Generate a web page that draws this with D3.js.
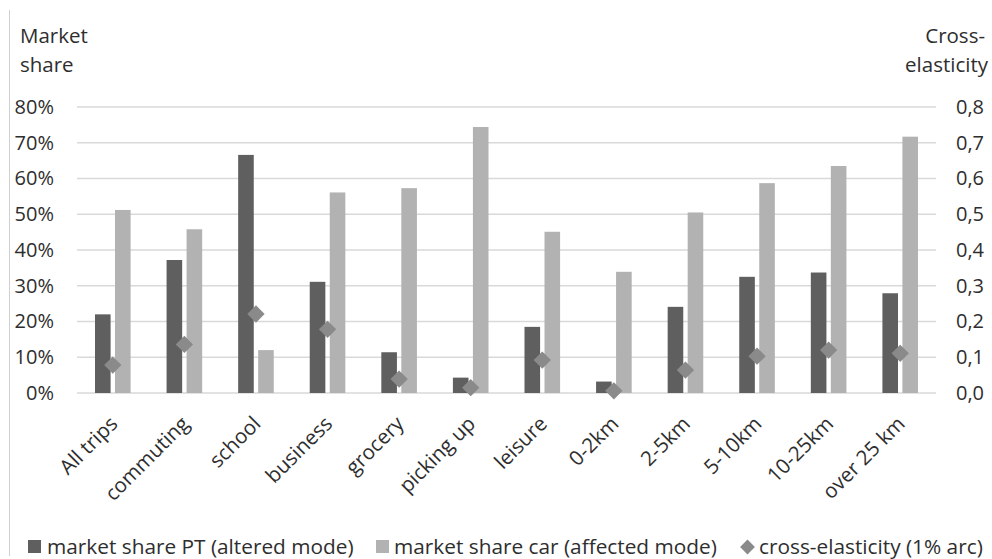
<!DOCTYPE html>
<html>
<head>
<meta charset="utf-8">
<script src="https://cdn.jsdelivr.net/npm/d3@7"></script>
<style>
  html, body { margin: 0; padding: 0; background: #fff; }
  svg { display: block; font-family: "Open Sans", "Noto Sans", sans-serif; }
</style>
</head>
<body>
<svg id="chart" width="992" height="559"></svg>
<script>
// Trip purposes and distance bands
const categories = ["All trips", "commuting", "school", "business", "grocery", "picking up",
  "leisure", "0-2km", "2-5km", "5-10km", "10-25km", "over 25 km"];

// Market share of public transport (altered mode), fraction
const sharePT = [0.22, 0.372, 0.666, 0.311, 0.114, 0.043, 0.185, 0.032, 0.241, 0.325, 0.337, 0.279];

// Market share of car (affected mode), fraction
const shareCar = [0.512, 0.458, 0.12, 0.561, 0.573, 0.744, 0.451, 0.339, 0.505, 0.587, 0.635, 0.717];

// Cross-elasticity (1% arc)
const crossElasticity = [0.078, 0.136, 0.221, 0.178, 0.039, 0.015, 0.092, 0.006, 0.064, 0.103, 0.12, 0.111];

const leftTicks = [0, 0.1, 0.2, 0.3, 0.4, 0.5, 0.6, 0.7, 0.8];
const rightTicks = [0, 0.1, 0.2, 0.3, 0.4, 0.5, 0.6, 0.7, 0.8];

const seriesNames = ["market share PT (altered mode)", "market share car (affected mode)", "cross-elasticity (1% arc)"];
const colors = { pt: "#5f5f5f", car: "#b2b2b2", elas: "#8a8a8a", grid: "#d9d9d9", text: "#2e2e2e" };
const FS = 20.5;     // general text size
const FS_TICK = 20;  // axis tick labels
const FS_LEG = 20.8; // legend

const svg = d3.select("#chart");
const plot = { left: 77, right: 936, top: 107, bottom: 393 };

const x = d3.scaleBand().domain(categories).range([plot.left, plot.right]);
const yL = d3.scaleLinear().domain([0, 0.8]).range([plot.bottom, plot.top]);
const yR = d3.scaleLinear().domain([0, 0.8]).range([plot.bottom, plot.top]);

const barW = 15.6, barGap = 4.4;

// chart area border (left edge only is visible)
svg.append("line")
  .attr("x1", 9.5).attr("x2", 9.5).attr("y1", 10).attr("y2", 556)
  .attr("stroke", "#d0d0d0").attr("stroke-width", 1);

// gridlines
svg.append("g").selectAll("line").data(leftTicks).join("line")
  .attr("x1", plot.left).attr("x2", plot.right)
  .attr("y1", d => yL(d)).attr("y2", d => yL(d))
  .attr("stroke", colors.grid).attr("stroke-width", 1.6);

// left axis
const leftAxis = d3.axisLeft(yL).tickValues(leftTicks).tickFormat(d3.format(".0%")).tickSize(0).tickPadding(0);
const gL = svg.append("g").attr("transform", "translate(54,0)").call(leftAxis);
gL.select(".domain").remove();
gL.selectAll("text").attr("font-size", FS_TICK).attr("fill", colors.text).attr("font-family", "Open Sans");

// right axis
const commaFmt = d => d3.format(".1f")(d).replace(".", ",");
const rightAxis = d3.axisRight(yR).tickValues(rightTicks).tickFormat(commaFmt).tickSize(0).tickPadding(0);
const gR = svg.append("g").attr("transform", "translate(956,0)").call(rightAxis);
gR.select(".domain").remove();
gR.selectAll("text").attr("font-size", FS_TICK).attr("fill", colors.text).attr("font-family", "Open Sans");

// axis titles
const titleL = svg.append("text").attr("font-size", FS).attr("fill", colors.text);
titleL.append("tspan").attr("x", 20).attr("y", 43).text("Market");
titleL.append("tspan").attr("x", 20).attr("y", 72).text("share");
const titleR = svg.append("text").attr("font-size", FS).attr("fill", colors.text).attr("text-anchor", "end");
titleR.append("tspan").attr("x", 985).attr("y", 43).text("Cross-");
titleR.append("tspan").attr("x", 988).attr("y", 72).text("elasticity");

// bars
const cx = d => x(d) + x.bandwidth() / 2;
svg.append("g").selectAll("rect").data(categories).join("rect")
  .attr("x", (d) => cx(d) - barGap / 2 - barW)
  .attr("width", barW)
  .attr("y", (d, i) => yL(sharePT[i]))
  .attr("height", (d, i) => yL(0) - yL(sharePT[i]))
  .attr("fill", colors.pt);
svg.append("g").selectAll("rect").data(categories).join("rect")
  .attr("x", (d) => cx(d) + barGap / 2)
  .attr("width", barW)
  .attr("y", (d, i) => yL(shareCar[i]))
  .attr("height", (d, i) => yL(0) - yL(shareCar[i]))
  .attr("fill", colors.car);

// elasticity markers
const diamond = d3.symbol().type(d3.symbolSquare).size(150);
svg.append("g").selectAll("path").data(categories).join("path")
  .attr("d", diamond)
  .attr("transform", (d, i) => `translate(${cx(d)},${yR(crossElasticity[i])}) rotate(45)`)
  .attr("fill", colors.elas);

// category labels
svg.append("g").selectAll("text").data(categories).join("text")
  .attr("transform", d => `translate(${cx(d) + 6},${425}) rotate(-45)`)
  .attr("text-anchor", "end")
  .attr("font-size", FS).attr("fill", colors.text)
  .text(d => d);

// legend
const legend = svg.append("g").attr("font-size", FS_LEG).attr("fill", colors.text);
const legendItems = [
  { name: seriesNames[0], sx: 28, tx: 47, kind: "rect", color: colors.pt },
  { name: seriesNames[1], sx: 376, tx: 394, kind: "rect", color: colors.car },
  { name: seriesNames[2], sx: 747.5, tx: 759, kind: "diamond", color: colors.elas }
];
legendItems.forEach(it => {
  if (it.kind === "rect") {
    legend.append("rect").attr("x", it.sx).attr("y", 540).attr("width", 13).attr("height", 13).attr("fill", it.color);
  } else {
    legend.append("path").attr("d", d3.symbol().type(d3.symbolSquare).size(110))
      .attr("transform", `translate(${it.sx},547) rotate(45)`).attr("fill", it.color);
  }
  legend.append("text").attr("x", it.tx).attr("y", 554).text(it.name);
});
</script>
</body>
</html>
